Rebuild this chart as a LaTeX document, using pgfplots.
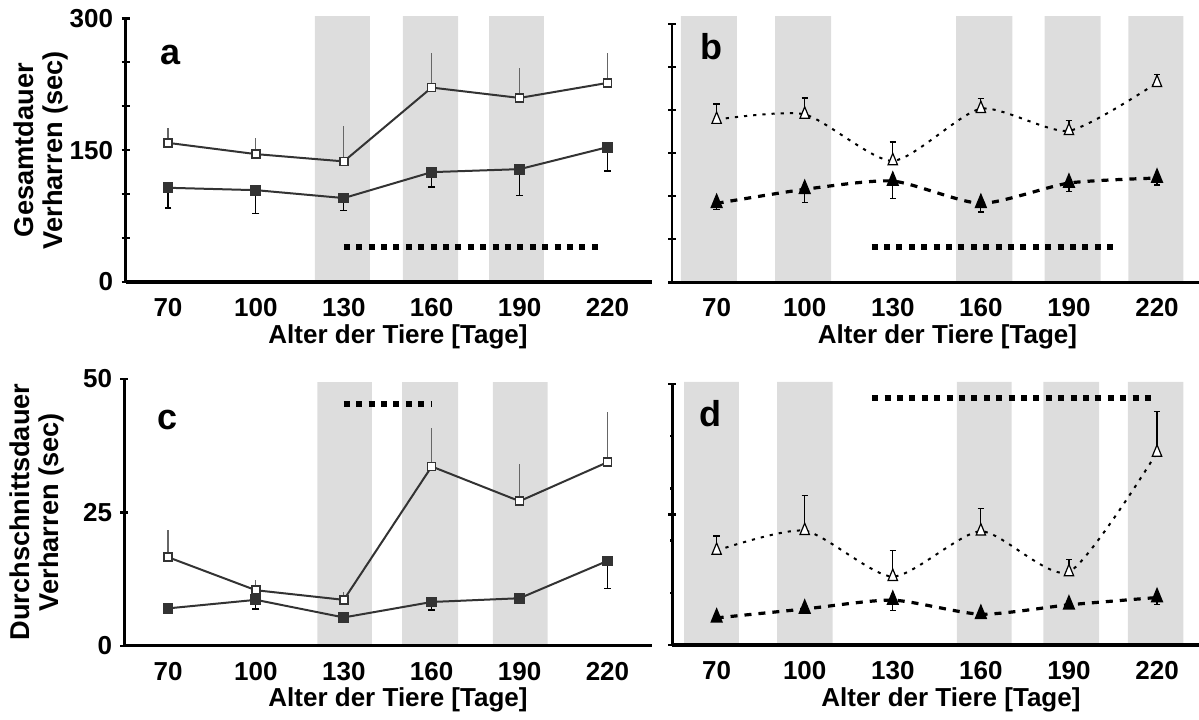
\documentclass[border=0pt]{standalone}
\usepackage{fontspec}
\setmainfont{Liberation Sans}
\usepackage{pgfplots}
\usepackage{pgfplotstable}
\pgfplotsset{compat=1.18}
\definecolor{band}{HTML}{DDDDDD}
\definecolor{ser}{HTML}{333333}
\definecolor{errc}{HTML}{666666}

% age, open mean, open err, filled mean, filled err
\pgfplotstableread{
x   o      oe    f      fe
70  158.3  17    107.2  23
100 145.5  18    104.5  27
130 137.2  40    95.5   14
160 221.2  39    125.0  17
190 209.4  34    128.4  30
220 226.5  34    153.4  27
}\tabA
\pgfplotstableread{
x   o      oe    f      fe
70  189.0  18    91.7   7
100 195.0  19    108.0  15
130 141.0  22    117.6  20
160 201.6  12    91.7   10
190 176.0  12    115.3  10
220 231.8  10    121.1  8
}\tabB
\pgfplotstableread{
x   o      oe    f      fe
70  16.6   5.1   7.0    0.6
100 10.4   2.0   8.6    1.7
130 8.6    1.4   5.3    0.5
160 33.6   7.3   8.2    1.5
190 27.1   7.0   8.9    0.6
220 34.4   9.5   15.9   5.1
}\tabC
\pgfplotstableread{
x   o      oe    f      fe
70  18.1   2.8   5.2    0.3
100 21.9   6.8   6.9    0.3
130 13.1   5.0   8.6    2.0
160 21.8   4.4   5.9    0.3
190 14.0   2.4   7.7    0.6
220 36.9   7.8   9.1    1.4
}\tabD

\tikzset{letter/.style={font=\fontsize{18}{18}\selectfont\bfseries, inner sep=0pt}}

\pgfplotsset{
  panel/.style={
    scale only axis, anchor=south west, axis on top, clip=false,
    axis x line=bottom, axis y line=left,
    x axis line style={-, line width=1.6pt},
    y axis line style={-, line width=1.2pt},
    xtick={70,100,130,160,190,220},
    xticklabels={70,100,130,160,190,220},
    xtick style={draw=none},
    xticklabel style={font=\fontsize{13}{13}\selectfont\bfseries, anchor=north, inner sep=0pt, yshift=-6pt},
    yticklabel style={font=\fontsize{13}{13}\selectfont\bfseries, anchor=east, inner sep=0pt, xshift=-4pt},
    ytick style={line width=1.2pt, black},
    major tick length=4pt, minor tick length=2pt, tick align=center,
    xlabel={Alter der Tiere [Tage]},
    xlabel style={font=\fontsize{13}{13}\selectfont\bfseries, anchor=center},
    ylabel style={font=\fontsize{13.6}{14.5}\selectfont\bfseries, anchor=center, align=center},
    ymin=0,
  },
  bandfill/.style={fill=band, draw=none, forget plot},
  sig/.style={black, line width=3pt, dash pattern=on 3pt off 3.2pt, mark=none, forget plot},
  openSq/.style={color=ser, line width=1pt, mark=square*, mark size=2pt,
    mark options={fill=white, draw=ser, line width=0.8pt, solid},
    error bars/.cd, y dir=plus, y explicit, error mark=none,
    error bar style={errc, line width=0.6pt, solid}},
  fillSq/.style={color=ser, line width=1pt, mark=square*, mark size=2.2pt,
    mark options={fill=ser, draw=ser, solid},
    error bars/.cd, y dir=minus, y explicit, error mark=-,
    error bar style={black, line width=0.6pt, solid},
    error mark options={mark size=1.7pt, line width=0.6pt, black, rotate=90}},
  openTri/.style={black, line width=1pt, dash pattern=on 1.6pt off 3pt, smooth, tension=0.4,
    mark=triangle*, mark size=2.7pt,
    mark options={fill=white, draw=black, line width=0.6pt, solid, yscale=1.4},
    error bars/.cd, y dir=plus, y explicit, error mark=-,
    error bar style={black, line width=0.6pt, solid},
    error mark options={mark size=1.6pt, line width=0.6pt, black, rotate=90}},
  fillTri/.style={black, line width=1.6pt, dash pattern=on 3.5pt off 3.5pt, smooth, tension=0.4,
    mark=triangle*, mark size=2.3pt,
    mark options={fill=black, draw=black, solid, yscale=1.4},
    error bars/.cd, y dir=minus, y explicit, error mark=-,
    error bar style={black, line width=0.6pt, solid},
    error mark options={mark size=1.6pt, line width=0.6pt, black, rotate=90}},
}

\begin{document}
\begin{tikzpicture}
\path[use as bounding box] (0,0) rectangle (599.5pt,-359.5pt);

% ---- a ----
\begin{axis}[panel, at={(62.75pt,-141pt)}, width=263.25pt, height=131.85pt,
  xmin=55.5, xmax=235.2, ymax=300,
  ytick={0,50,...,300}, yticklabels={0,,,150,,,300},
  xlabel style={at={(axis description cs:0.5176,0)}, yshift=-27.35pt},
  ylabel={Gesamtdauer\\Verharren (sec)},
  ylabel style={at={(axis description cs:-0.16,0.5)}}]
\addplot[bandfill] coordinates {(120.1,0) (120.1,302.6) (138.9,302.6) (138.9,0)} \closedcycle;
\addplot[bandfill] coordinates {(150.2,0) (150.2,302.6) (169.0,302.6) (169.0,0)} \closedcycle;
\addplot[bandfill] coordinates {(179.6,0) (179.6,302.6) (198.3,302.6) (198.3,0)} \closedcycle;
\addplot[sig] coordinates {(130,40) (216.8,40)};
\addplot[openSq] table[x=x, y=o, y error=oe] {\tabA};
\addplot[fillSq] table[x=x, y=f, y error=fe] {\tabA};
\node[letter] at (axis cs:70.7,258) {a};
\end{axis}

% ---- b ----
\begin{axis}[panel, at={(336pt,-141.15pt)}, width=263.5pt, height=129.15pt,
  xmin=54.8, xmax=234.3, ymax=300,
  ytick={0,50,...,300}, yticklabels={},
  xlabel style={at={(axis description cs:0.5228,0)}, yshift=-27.2pt}]
\addplot[bandfill] coordinates {(57.8,0) (57.8,309.3) (76.9,309.3) (76.9,0)} \closedcycle;
\addplot[bandfill] coordinates {(89.9,0) (89.9,309.3) (109.0,309.3) (109.0,0)} \closedcycle;
\addplot[bandfill] coordinates {(151.6,0) (151.6,309.3) (170.7,309.3) (170.7,0)} \closedcycle;
\addplot[bandfill] coordinates {(181.7,0) (181.7,309.3) (200.8,309.3) (200.8,0)} \closedcycle;
\addplot[bandfill] coordinates {(210.2,0) (210.2,309.3) (229.0,309.3) (229.0,0)} \closedcycle;
\addplot[sig] coordinates {(122.8,41.3) (204.9,41.3)};
\addplot[openTri] table[x=x, y=o, y error=oe] {\tabB};
\addplot[fillTri] table[x=x, y=f, y error=fe] {\tabB};
\node[letter] at (axis cs:68.1,273.6) {b};
\end{axis}

% ---- c ----
\begin{axis}[panel, at={(62.25pt,-322.85pt)}, width=263.75pt, height=133.35pt,
  xmin=55.15, xmax=235.2, ymax=50,
  ytick={0,25,50}, yticklabels={0,25,50},
  xlabel style={at={(axis description cs:0.5185,0)}, yshift=-27.15pt},
  ylabel={Durchschnittsdauer\\Verharren (sec)},
  ylabel style={at={(axis description cs:-0.1665,0.501)}}]
\addplot[bandfill] coordinates {(121.0,0) (121.0,49.4) (139.6,49.4) (139.6,0)} \closedcycle;
\addplot[bandfill] coordinates {(149.9,0) (149.9,49.4) (169.0,49.4) (169.0,0)} \closedcycle;
\addplot[bandfill] coordinates {(180.9,0) (180.9,49.4) (199.6,49.4) (199.6,0)} \closedcycle;
\addplot[sig] coordinates {(130,45.3) (160,45.3)};
\addplot[openSq] table[x=x, y=o, y error=oe] {\tabC};
\addplot[fillSq] table[x=x, y=f, y error=fe] {\tabC};
\node[letter] at (axis cs:70,42.3) {c};
\end{axis}

% ---- d ----
\begin{axis}[panel, at={(336.15pt,-322.5pt)}, width=263.35pt, height=130.5pt,
  xmin=54.9, xmax=234.3, ymax=50,
  ytick={0,25,50}, yticklabels={}, minor ytick={10,20,30,40},
  xlabel style={at={(axis description cs:0.529,0)}, yshift=-27.5pt}]
\addplot[bandfill] coordinates {(58.9,0) (58.9,50.4) (77.6,50.4) (77.6,0)} \closedcycle;
\addplot[bandfill] coordinates {(90.6,0) (90.6,50.4) (109.5,50.4) (109.5,0)} \closedcycle;
\addplot[bandfill] coordinates {(151.8,0) (151.8,50.4) (170.5,50.4) (170.5,0)} \closedcycle;
\addplot[bandfill] coordinates {(181.3,0) (181.3,50.4) (200.3,50.4) (200.3,0)} \closedcycle;
\addplot[bandfill] coordinates {(210.1,0) (210.1,50.4) (229.0,50.4) (229.0,0)} \closedcycle;
\addplot[sig] coordinates {(123,47.4) (219.6,47.4)};
\addplot[openTri] table[x=x, y=o, y error=oe] {\tabD};
\addplot[fillTri] table[x=x, y=f, y error=fe] {\tabD};
\node[letter] at (axis cs:68,44.3) {d};
\end{axis}
\end{tikzpicture}
\end{document}
